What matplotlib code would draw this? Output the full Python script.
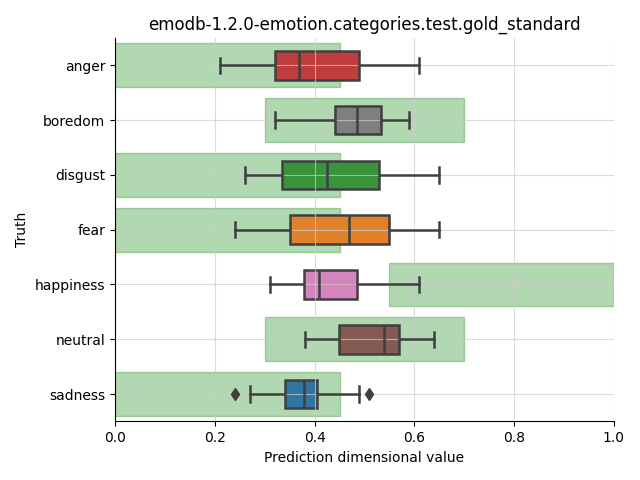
import matplotlib
matplotlib.use("Agg")
import matplotlib.pyplot as plt
import seaborn as sns

categories = ["anger", "boredom", "disgust", "fear", "happiness", "neutral", "sadness"]

# box statistics
whislo = [0.21, 0.32, 0.26, 0.24, 0.31, 0.38, 0.27]
q1 = [0.32, 0.44, 0.335, 0.35, 0.378, 0.449, 0.34]
med = [0.369, 0.484, 0.425, 0.469, 0.408, 0.539, 0.379]
q3 = [0.489, 0.533, 0.529, 0.549, 0.485, 0.57, 0.405]
whishi = [0.61, 0.59, 0.65, 0.65, 0.61, 0.64, 0.49]
fliers = [[], [], [], [], [], [], [0.241, 0.51]]

# expected range for each category (gold standard)
band_lo = [0.0, 0.3, 0.0, 0.0, 0.55, 0.3, 0.0]
band_hi = [0.45, 0.7, 0.45, 0.45, 1.0, 0.7, 0.45]

palette = ["#d62728", "#7f7f7f", "#2ca02c", "#ff7f0e", "#e377c2", "#8c564b", "#1f77b4"]

fig, ax = plt.subplots(figsize=(6.4, 4.8), dpi=100)
fig.subplots_adjust(left=0.18, right=0.959, top=0.921, bottom=0.122)

pos = list(range(len(categories)))

ax.barh(pos, [h - l for l, h in zip(band_lo, band_hi)], left=band_lo, height=0.8,
        color="green", alpha=0.3, edgecolor="green", linewidth=1, zorder=1)

stats = []
for i in range(len(categories)):
    stats.append({
        "whislo": whislo[i], "q1": q1[i], "med": med[i],
        "q3": q3[i], "whishi": whishi[i], "fliers": fliers[i],
    })

line_col = "#3f3f3f"
lw = 1.8
bp = ax.bxp(stats, positions=pos, vert=False, widths=0.52, capwidths=0.28,
            patch_artist=True,
            boxprops=dict(edgecolor=line_col, linewidth=lw),
            medianprops=dict(color=line_col, linewidth=lw),
            whiskerprops=dict(color=line_col, linewidth=lw),
            capprops=dict(color=line_col, linewidth=lw),
            flierprops=dict(marker="d", markerfacecolor=line_col,
                            markeredgecolor=line_col, markersize=6))
for patch, c in zip(bp["boxes"], palette):
    patch.set_facecolor(sns.desaturate(c, 0.75))
    patch.set_zorder(2)
for key in ["whiskers", "caps", "medians", "fliers"]:
    for art in bp[key]:
        art.set_zorder(6)

ax.set_yticks(pos)
ax.set_yticklabels(categories)
ax.set_ylim(len(categories) - 0.5, -0.5)
ax.set_xlim(0, 1)
ax.set_xticks([0.0, 0.2, 0.4, 0.6, 0.8, 1.0])
ax.set_xticklabels(["0.0", "0.2", "0.4", "0.6", "0.8", "1.0"])

ax.grid(True, color="#cccccc", alpha=0.7, linewidth=0.8, zorder=4)
ax.set_axisbelow(False)
ax.spines["top"].set_visible(False)
ax.spines["right"].set_visible(False)
ax.spines["left"].set_zorder(10)
ax.spines["bottom"].set_zorder(10)

ax.set_title("emodb-1.2.0-emotion.categories.test.gold_standard")
ax.set_xlabel("Prediction dimensional value")
ax.set_ylabel("Truth")

fig.savefig("out.png", dpi=100)
